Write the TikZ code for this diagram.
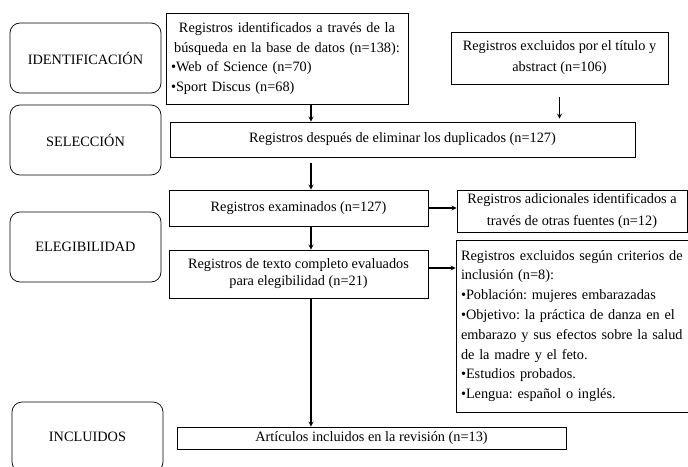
\documentclass[tikz,border=0pt]{standalone}
\usepackage{fontspec}
\setmainfont{Liberation Serif}
\frenchspacing
\begin{document}
\begin{tikzpicture}[x=1pt, y=-1pt,
  phase/.style={draw, line width=0.7pt, rounded corners=10pt, minimum width=151pt, minimum height=70pt, font=\fontsize{14.3}{16}\selectfont},
  record/.style={draw, line width=0.8pt, inner sep=0pt, align=center, font=\fontsize{14.3}{19.5}\selectfont},
  flow/.style={-stealth, line width=1.2pt}]
  \useasboundingbox (0,0) rectangle (688,466);
  \node [phase] (identph) at (85.5,58) {IDENTIFICACIÓN};
  \node [phase] (selecph) at (85.5,140) {SELECCIÓN};
  \node [phase] (elegph) at (85.5,247) {ELEGIBILIDAD};
  \node [phase] (inclph) at (87.5,437) {INCLUIDOS};
  \node [record, minimum width=242pt, minimum height=91pt, text width=232pt, align=left] (ident) at (287,58.5)
    {\makebox[232pt]{Registros identificados a través de la}\\
     \makebox[232pt]{búsqueda en la base de datos (n=138):}\\
     •Web of Science (n=70)\\
     •Sport Discus (n=68)};
  \node [record, minimum width=217pt, minimum height=52pt, font=\fontsize{14.3}{21}\selectfont] (excl) at (559.5,58)
    {Registros excluidos por el título y\\abstract (n=106)};
  \node [record, minimum width=465pt, minimum height=35pt] (dup) at (402.5,139.5)
    {Registros después de eliminar los duplicados (n=127)};
  \node [record, minimum width=259pt, minimum height=36pt] (exam) at (298.5,208)
    {Registros examinados (n=127)};
  \node [record, minimum width=259pt, minimum height=48pt, font=\fontsize{14.3}{17}\selectfont] (full) at (298.5,274)
    {Registros de texto completo evaluados\\para elegibilidad (n=21)};
  \node [record, minimum width=230pt, minimum height=42pt, font=\fontsize{14.3}{22}\selectfont] (addl) at (572,211)
    {Registros adicionales identificados a\\través de otras fuentes (n=12)};
  \node [record, minimum width=236pt, minimum height=172pt, text width=226pt, align=left, font=\fontsize{14.3}{19.8}\selectfont] (crit) at (574,326)
    {Registros excluidos según criterios de\\
     inclusión (n=8):\\
     •Población: mujeres embarazadas\\
     •Objetivo: la práctica de danza en el\\
     embarazo y sus efectos sobre la salud\\
     de la madre y el feto.\\
     •Estudios probados.\\
     •Lengua: español o inglés.};
  \node [record, minimum width=389pt, minimum height=22pt] (incl) at (371.5,438)
    {Artículos incluidos en la revisión (n=13)};
  \coordinate (spine) at (311,0);
  \draw [flow] (ident.south -| spine) -- (dup.north -| spine);
  \draw [flow, shorten <=13pt, shorten >=3pt] (excl.south) -- (excl.south |- dup.north);
  \draw [flow, shorten <=6pt] (dup.south -| spine) -- (exam.north -| spine);
  \draw [flow] (exam.south -| spine) -- (full.north -| spine);
  \draw [flow] (exam.east) -- (exam.east -| addl.west);
  \draw [flow] ([yshift=6pt]full.east) -- ([yshift=6pt]full.east -| crit.west);
  \draw [flow] (full.south -| spine) -- (incl.north -| spine);
\end{tikzpicture}
\end{document}
